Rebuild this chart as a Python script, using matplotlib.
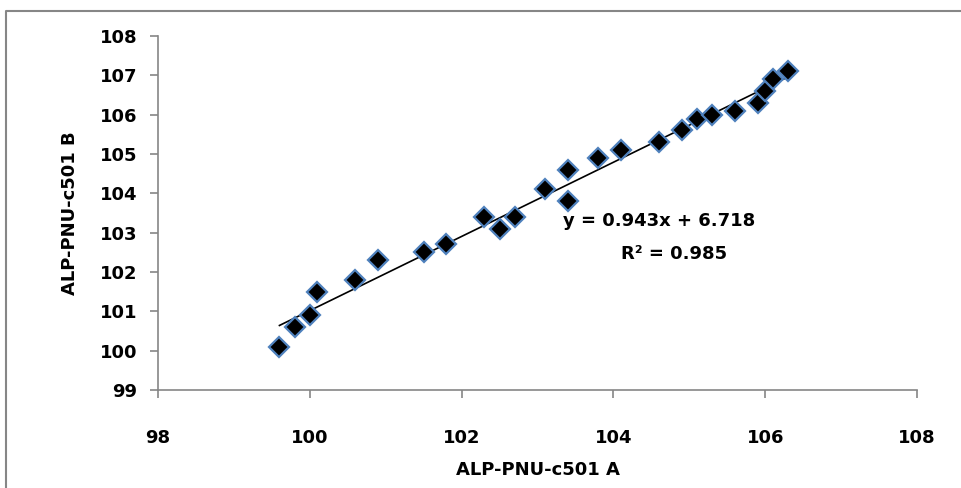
import matplotlib.pyplot as plt
from matplotlib.lines import Line2D

# valores
alp_a = [99.6, 99.8, 100.0, 100.1, 100.6, 100.9, 101.5, 101.8, 102.3, 102.5,
         102.7, 103.1, 103.4, 103.4, 103.8, 104.1, 104.6, 104.9, 105.1, 105.3,
         105.6, 105.9, 106.0, 106.1, 106.3]
alp_b = [100.1, 100.6, 100.9, 101.5, 101.8, 102.3, 102.5, 102.7, 103.4, 103.1,
         103.4, 104.1, 104.6, 103.8, 104.9, 105.1, 105.3, 105.6, 105.9, 106.0,
         106.1, 106.3, 106.6, 106.9, 107.1]
slope = 0.943
intercept = 6.718
r2 = 0.985
x_ticks = [98, 100, 102, 104, 106, 108]
y_ticks = [99, 100, 101, 102, 103, 104, 105, 106, 107, 108]

plt.rcParams['font.family'] = ['DejaVu Sans']
plt.rcParams['font.weight'] = 'bold'
fs = 13

fig = plt.figure(figsize=(9.62, 4.88), dpi=100)
# marco exterior (solo borde superior e izquierdo visibles)
fx = 6 / 962
fy = 1 - 10.5 / 488
fig.lines.append(Line2D([fx, fx, 1.0], [0.0, fy, fy], transform=fig.transFigure,
                        color='#868686', linewidth=1.5))
ax = fig.add_axes([158 / 962, 1 - 390 / 488, (917 - 158) / 962, (390 - 36) / 488])

# linea de tendencia
xl = [min(alp_a), max(alp_a)]
yl = [slope * v + intercept for v in xl]
ax.plot(xl, yl, color='black', linewidth=1.2, zorder=2)

ax.plot(alp_a, alp_b, 'D', markersize=10.5, markerfacecolor='black',
        markeredgecolor='#4F81BD', markeredgewidth=1.6, zorder=3)

ax.set_xlim(98, 108)
ax.set_ylim(99, 108)
ax.set_xticks(x_ticks)
ax.set_yticks(y_ticks)
for s in ['top', 'right']:
    ax.spines[s].set_visible(False)
for s in ['left', 'bottom']:
    ax.spines[s].set_color('#868686')
    ax.spines[s].set_linewidth(1.2)
ax.tick_params(axis='both', colors='#868686', length=6, width=1.2,
               labelcolor='black', labelsize=fs)
ax.tick_params(axis='x', pad=22)
ax.tick_params(axis='y', pad=9)
for lab in ax.get_xticklabels() + ax.get_yticklabels():
    lab.set_fontweight('bold')

ax.set_xlabel('ALP-PNU-c501 A', fontsize=fs, fontweight='bold', labelpad=10)
ax.set_ylabel('ALP-PNU-c501 B', fontsize=fs, fontweight='bold', labelpad=15)

ax.text(104.6, 103.3, 'y = %.3fx + %.3f' % (slope, intercept), fontsize=fs,
        fontweight='bold', ha='center', va='center')
ax.text(104.8, 102.45, 'R² = %.3f' % r2, fontsize=fs,
        fontweight='bold', ha='center', va='center')

fig.savefig('out.png', dpi=100)
